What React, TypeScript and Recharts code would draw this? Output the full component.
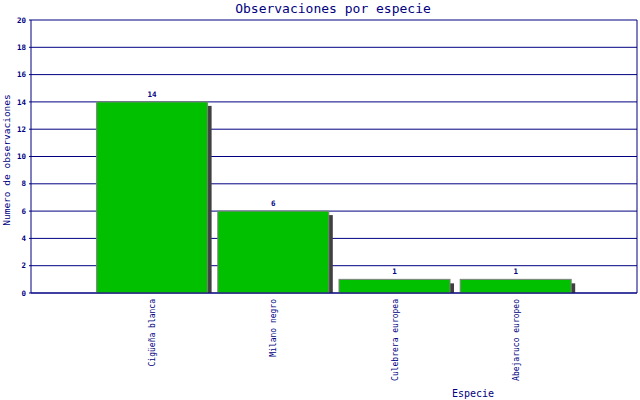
import React from "react";
import { BarChart, Bar, XAxis, YAxis, CartesianGrid, LabelList } from "recharts";

const categories = ["Cigüeña blanca", "Milano negro", "Culebrera europea", "Abejaruco europeo"];
const values = [14, 6, 1, 1];
const yTicks = [0, 2, 4, 6, 8, 10, 12, 14, 16, 18, 20];

const data = categories.map((name, i) => ({ name, value: values[i] }));

const NAVY = "#000080";
const MONO = "'DejaVu Sans Mono', 'Liberation Mono', monospace";

const ShadowBar = (props: any) => {
  const { x, y, width, height } = props;
  if (height <= 0) return null;
  return (
    <g>
      <rect x={x + 4} y={y + 4} width={width} height={Math.max(0, height - 4)} fill="#404040" />
      <rect x={x} y={y} width={width} height={height} fill="#00C000" stroke="#808080" strokeWidth={1} />
    </g>
  );
};

const XTick = (props: any) => {
  const { x, y, payload } = props;
  const ty = y - 2;
  return (
    <text
      x={x + 3}
      y={ty}
      transform={`rotate(-90, ${x + 3}, ${ty})`}
      textAnchor="end"
      fill={NAVY}
      fontFamily={MONO}
      fontSize={8}
    >
      {payload.value}
    </text>
  );
};

export default function App() {
  return (
    <div style={{ width: 640, height: 400, background: "#fff", position: "relative" }}>
      <style>{"body{margin:0}"}</style>
      <BarChart width={640} height={400} data={data} margin={{ top: 20, right: 0, bottom: 0, left: 0 }}>
        <text x={333} y={13} textAnchor="middle" fill={NAVY} fontFamily={MONO} fontSize={13}>
          Observaciones por especie
        </text>
        <text x={473} y={397} textAnchor="middle" fill={NAVY} fontFamily={MONO} fontSize={10}>
          Especie
        </text>
        <text
          x={10}
          y={160}
          transform="rotate(-90, 10, 160)"
          textAnchor="middle"
          fill={NAVY}
          fontFamily={MONO}
          fontSize={9.5}
        >
          Numero de observaciones
        </text>
        <CartesianGrid horizontal vertical={false} stroke={NAVY} strokeDasharray="" />
        <XAxis
          dataKey="name"
          height={107}
          padding={{ left: 60.6, right: 60.6 }}
          axisLine={{ stroke: NAVY }}
          tickLine={false}
          tick={<XTick />}
          interval={0}
        />
        <YAxis
          domain={[0, 20]}
          ticks={yTicks}
          width={31}
          tickSize={2}
          tickMargin={3}
          axisLine={{ stroke: NAVY }}
          tickLine={{ stroke: NAVY }}
          tick={{ fill: NAVY, fontSize: 7.5, fontFamily: MONO, fontWeight: "bold" }}
          interval={0}
        />
        <YAxis
          yAxisId="r"
          orientation="right"
          width={3}
          domain={[0, 20]}
          tick={false}
          tickLine={false}
          axisLine={{ stroke: NAVY }}
        />
        <Bar dataKey="value" barSize={111} shape={<ShadowBar />} isAnimationActive={false}>
          <LabelList
            dataKey="value"
            position="top"
            offset={5}
            fill={NAVY}
            fontSize={7.5}
            fontFamily={MONO}
            fontWeight="bold"
          />
        </Bar>
      </BarChart>
    </div>
  );
}
